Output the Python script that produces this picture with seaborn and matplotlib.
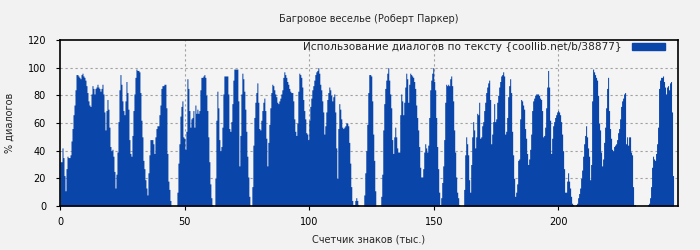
import numpy as np
import pandas as pd
import matplotlib
matplotlib.use("Agg")
import matplotlib.pyplot as plt
from matplotlib.patches import Patch
import seaborn as sns

# ---- data: % of dialogue per ~0.4 thousand characters ----
seg_a = [32,32,42,35,22,11,27,36,35,35, 37,47,56,66,73,84,95,95,94,93,
         92,95,96,94,93,91,87,82,76,73, 72,81,87,85,81,85,86,88,86,85,
         83,85,88,81,68,55,69,77,70,57, 43,40,41,36,25,13,23,39,61,84,
         95,88,76,69,66,76,90,82,70,48, 38,36,51,69,81,93,99,98,98,97,
         82,62,50,33,27,19,13,8,24,37, 48,48,48,45,38,50,56,58,58,66,
         73,85,87,87,88,88,71,38,18,12, 4,0,0,0,0,0,0,10,31,45,
         65,72,76,50,49,41,54,92,85,69, 57,63,64,69,57,73,67,70,67,69,
         84,93,93,94,95,93,80,69,50,32, 16,6,1]
seg_b = [0,0,20,62,83,71,48,40,43,57, 81,94,94,94,94,81,56,54,61,74,
         91,99,99,99,99,76,29,51,81,96, 92,83,70,54,36,21,7,0,0,14,
         44,64,75,82,89,75,56,55,62,69, 75,78,69,49,29,46,59,71,82,88,
         87,84,81,79,75,74,76,78,81,84, 93,97,95,93,90,88,85,83,82,82,
         76,63,54,51,60,83,96,95,93,86, 77,69,63,53,52,48,62,72,78,84,
         87,91,95,97,98,100,96,88,84,76, 68,52,58,68,77,82,86,84,80,76,
         79,81,68,42,20,56,74,70,63,57, 56,57,58,60,60,58,46,31,14,4,
         1,1,4,6,4,1,0,0,0,0, 0,8,24]
seg_c = [40,59,82,95,95,94,76,52,33,11, 0,0,0,0,0,7,23,55,74,85,
         91,96,100,91,81,71,48,38,50,57, 50,42,39,39,66,81,76,66,75,86,
         96,92,75,88,96,95,94,93,90,85, 73,64,55,43,28,21,21,27,39,45,
         42,39,44,64,84,91,96,100,90,84, 64,43,27,10,1,6,17,29,48,75,
         88,87,88,87,92,94,87,76,55,39, 21,10,6,1,0,0,0,0,12,37,
         50,45,37,19,10,30,50,61,55,42, 50,67,66,75,49,50,58,61,69,75,
         82,86,89,91,77,45,52,61,74,61, 63,75,80,86,90,94,95,97,94,52,
         54,64,79,87,92,82,54,37,20,7, 10,16,33,34]
seg_d = [63,77,76,73,70,56,49,38,30,34, 41,52,69,76,78,80,81,81,81,80,
         78,77,69,50,51,57,71,86,98,86, 62,38,49,58,61,64,66,68,69,68,
         66,61,52,40,27,10,10,18,24,18, 13,7,2,1,0,0,1,2,6,9,
         13,20,26,36,45,51,58,50,42,36, 19,30,76,99,97,95,93,91,80,60,
         55,39,29,34,46,57,71,85,93,69, 56,49,41,40,43,44,45,48,53,56,
         63,72,76,78,81,82,45,50,44,50, 50,39,37,14,1,1,0,0,0,0,
         0,0,0,0,0,0,0,0,1,2, 6,14,28,36,34,33,38,45,57,85,
         91,93,93,94,90,86,81,86,87,84, 89,90,68,22]

title = "Багровое веселье (Роберт Паркер)"
legend_label = "Использование диалогов по тексту {coollib.net/b/38877}"
x_label = "Счетчик знаков (тыс.)"
y_label = "% диалогов"
x_ticks = [0, 50, 100, 150, 200]
y_ticks = [0, 20, 40, 60, 80, 100, 120]

BIN_K = 0.401  # thousand characters per sample

values = np.array(seg_a + seg_b + seg_c + seg_d, dtype=float)
n = len(values)
centers = (np.arange(n) + 0.5) * BIN_K
df = pd.DataFrame({"k": centers, "pct": values})

BLUE = "#0a45a9"

sns.set_theme(style="ticks")
plt.rcParams["font.family"] = ["DejaVu Sans"]

fig = plt.figure(figsize=(7, 2.5), dpi=100, facecolor="#f2f2f2")
ax = fig.add_axes([60/700, 44/250, 618/700, 166/250])
ax.set_facecolor("#f4f4f4")

sns.histplot(data=df, x="k", weights="pct", binwidth=BIN_K, binrange=(0, n * BIN_K),
             element="step", fill=True, color=BLUE, alpha=1, linewidth=0, ax=ax)

ax.set_xlim(0, 248)
ax.set_ylim(0, 120)
ax.set_xticks(x_ticks)
ax.set_yticks(y_ticks)
ax.tick_params(axis="x", direction="out", length=3, width=0.8, pad=5, labelsize=7, colors="black")
ax.tick_params(axis="y", direction="out", length=3, width=0.8, pad=7, labelsize=7, colors="black")

for v in [20, 40, 60, 80, 100]:
    ax.axhline(v, color="#a0a0a0", lw=0.8, ls=(0, (2, 2.5)), zorder=0.5)
for v in [50, 100, 150, 200]:
    ax.axvline(v, color="#a0a0a0", lw=0.8, ls=(0, (2, 2.5)), zorder=0.5)
ax.set_axisbelow(True)

for s in ax.spines.values():
    s.set_visible(True)
    s.set_color("black")
    s.set_linewidth(1.2)

ax.set_xlabel("")
ax.set_ylabel("")
fig.text(369/700, 1 - 19/250, title, ha="center", va="center", fontsize=7)
fig.text(369/700, 1 - 240/250, x_label, ha="center", va="center", fontsize=7)
fig.text(10/700, 1 - 123/250, y_label, ha="center", va="center", rotation=90, fontsize=7)

leg = ax.legend(handles=[Patch(facecolor=BLUE, edgecolor=BLUE)], labels=[legend_label],
                loc="center right", bbox_to_anchor=(665/700, 1 - 47/250),
                bbox_transform=fig.transFigure, frameon=False, markerfirst=False,
                fontsize=7.55, handlelength=3.1, handleheight=0.6,
                handletextpad=1.0, borderpad=0, borderaxespad=0)

fig.savefig("out.png", dpi=100, facecolor=fig.get_facecolor())
